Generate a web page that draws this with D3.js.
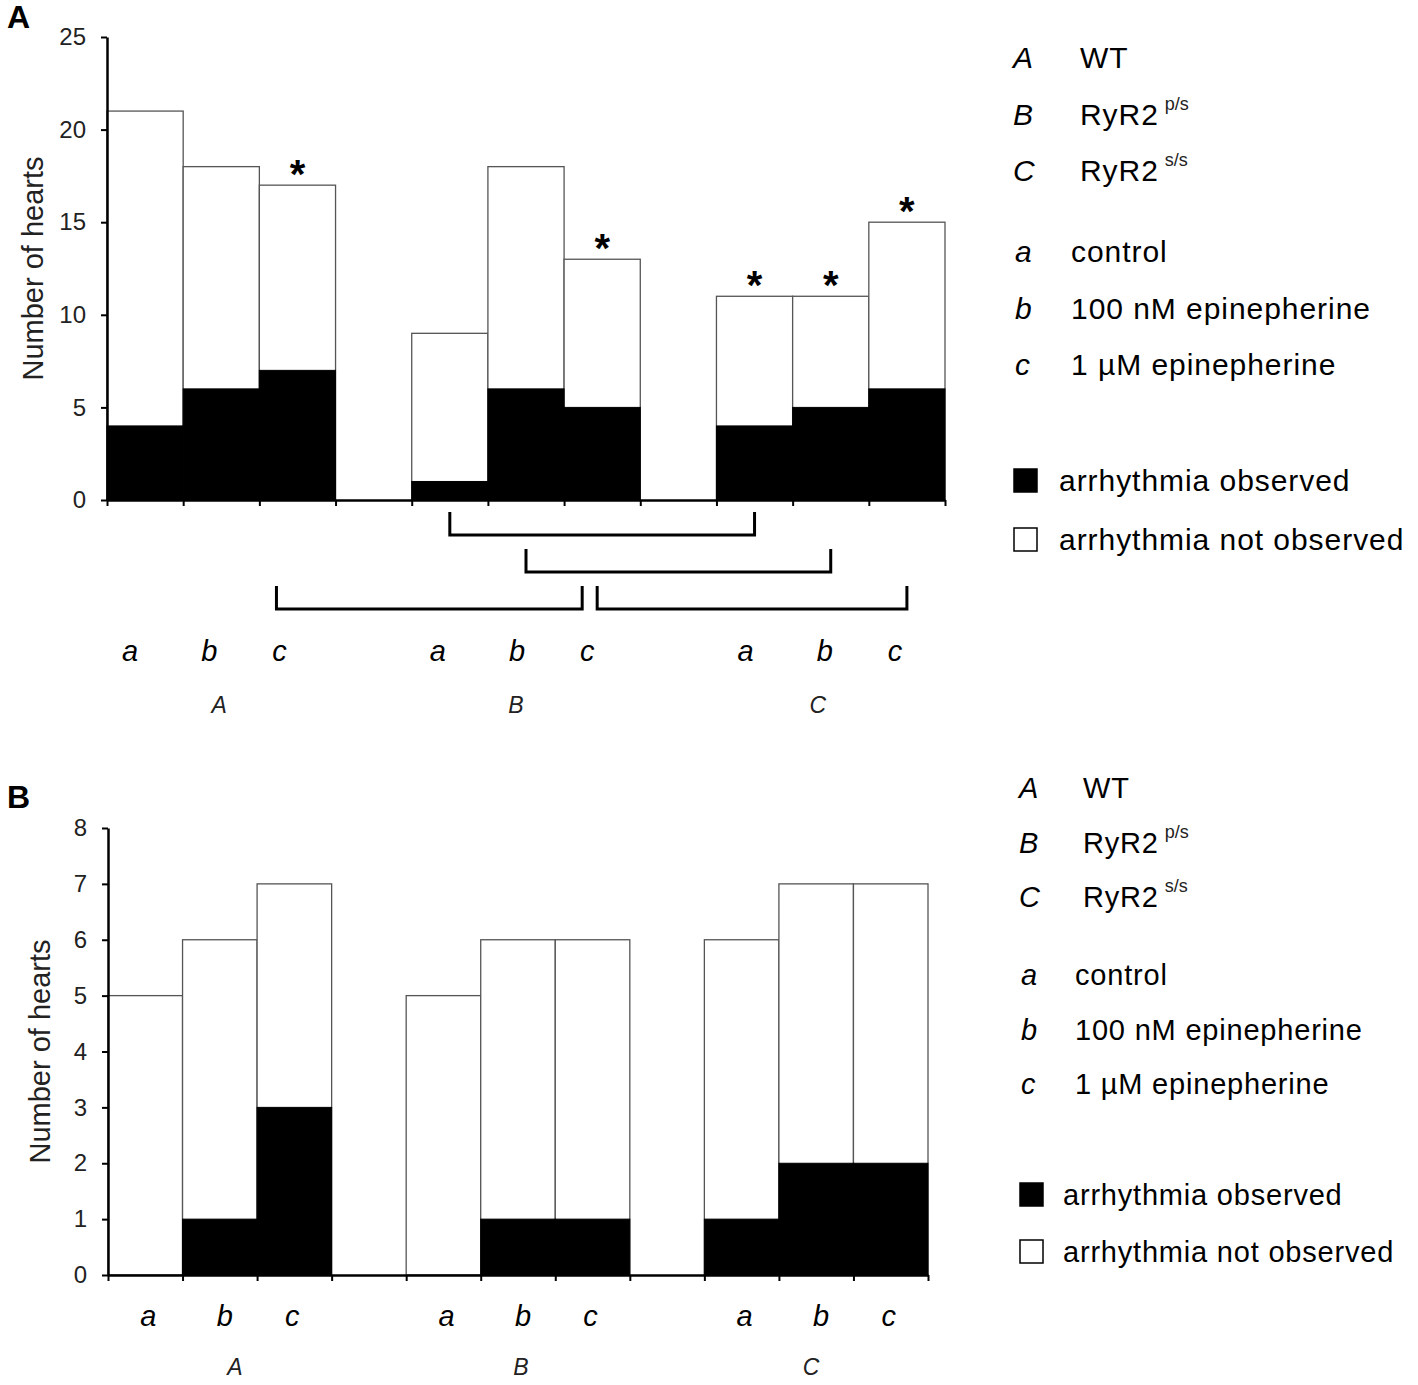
<!DOCTYPE html>
<html>
<head>
<meta charset="utf-8">
<script src="https://cdn.jsdelivr.net/npm/d3@7"></script>
<style>
  body{margin:0;background:#fff}
  svg{display:block}
  text{font-family:"Liberation Sans",Arial,sans-serif}
</style>
</head>
<body>
<script>
console.log("draw arrhythmia panels")
// shared categories
const groups = ["A","B","C"]
const treatments = ["a","b","c"]
const groupNames = ["WT","RyR2","RyR2"]
const groupSup = ["","p/s","s/s"]
const treatmentNames = ["control","100 nM epinepherine","1 \u00b5M epinepherine"]
const outcomeNames = ["arrhythmia observed","arrhythmia not observed"]

// panel A values (order: Aa Ab Ac Ba Bb Bc Ca Cb Cc)
const totalA = [21,18,17, 9,18,13, 11,11,15]
const arrhythmiaA = [4,6,7, 1,6,5, 4,5,6]
const starA = [0,0,1, 0,0,1, 1,1,1]
const yTicksA = [0,5,10,15,20,25]
const bracketsA = [["B-a","C-a",0],["B-b","C-b",1],["A-c","B-c",2],["B-c","C-c",2]]

// panel B values
const totalB = [5,6,7, 5,6,6, 6,7,7]
const arrhythmiaB = [0,1,3, 0,1,1, 1,2,2]
const starB = [0,0,0, 0,0,0, 0,0,0]
const yTicksB = [0,1,2,3,4,5,6,7,8]
const bracketsB = []

const svg = d3.select("body").append("svg").attr("width",1418).attr("height",1385)

// slot list with an empty slot between genotype groups
let slots = []
groups.forEach((g,i)=>{
  treatments.forEach(t=>slots.push(`${g}-${t}`))
  if(i<groups.length-1) slots.push(`gap${i}`)
})

function makeRows(total,arr,star){
  let rows=[]
  groups.forEach((g,gi)=>{
    treatments.forEach((t,ti)=>{
      let k=gi*3+ti
      rows.push({id:`${g}-${t}`,group:g,treat:t,total:total[k],arr:arr[k],star:star[k]})
    })
  })
  return rows
}

function drawPanel(p){
  let rows = makeRows(p.total,p.arr,p.star)
  let x = d3.scaleBand().domain(slots).range([p.x0,p.x1]).padding(0)
  let xb = d3.scaleLinear().domain([0,slots.length]).range([p.x0,p.x1])
  let y = d3.scaleLinear().domain([0,p.yMax]).range([p.y0,p.y1])
  let bw = x.bandwidth()
  let g = svg.append("g")

  // panel letter
  g.append("text").attr("x",p.letterX).attr("y",p.letterY)
    .attr("font-size",32).attr("font-weight","bold").text(p.letter)

  // white (total) bars, then black arrhythmia part
  g.selectAll(".tot").data(rows).join("rect").attr("class","tot")
    .attr("x",d=>x(d.id)).attr("width",bw)
    .attr("y",d=>y(d.total)).attr("height",d=>y(0)-y(d.total))
    .attr("fill","#fff").attr("stroke","#555").attr("stroke-width",1.3)
  g.selectAll(".arr").data(rows.filter(d=>d.arr>0)).join("rect").attr("class","arr")
    .attr("x",d=>x(d.id)).attr("width",bw)
    .attr("y",d=>y(d.arr)).attr("height",d=>y(0)-y(d.arr))
    .attr("fill","#000").attr("stroke","#000").attr("stroke-width",1)

  // stars
  g.selectAll(".star").data(rows.filter(d=>d.star)).join("text").attr("class","star")
    .attr("x",d=>x(d.id)+bw/2).attr("y",d=>y(d.total)+3)
    .attr("text-anchor","middle").attr("font-size",40).attr("font-weight","bold")
    .text("*")

  // axes
  let ya = g.append("g").attr("transform",`translate(${p.x0},0)`)
    .call(d3.axisLeft(y).tickValues(p.yTicks).tickSizeInner(6).tickSizeOuter(0).tickPadding(15))
  ya.select(".domain").attr("stroke","#000").attr("stroke-width",2.5)
  ya.selectAll(".tick line").attr("stroke","#000").attr("stroke-width",2)
  ya.selectAll(".tick text").attr("font-size",24).attr("fill","#222")
    .attr("font-family","Liberation Sans,Arial,sans-serif")

  let xa = g.append("g").attr("transform",`translate(0,${p.y0})`)
    .call(d3.axisBottom(xb).tickValues(d3.range(slots.length+1)).tickFormat("").tickSizeInner(6).tickSizeOuter(0))
  xa.select(".domain").attr("stroke","#000").attr("stroke-width",2.5)
  xa.selectAll(".tick line").attr("stroke","#000").attr("stroke-width",2)

  // y title
  g.append("text").attr("transform",`translate(${p.titleX},${(p.y0+p.y1)/2}) rotate(-90)`)
    .attr("text-anchor","middle").attr("font-size",29).attr("fill","#222")
    .text("Number of hearts")

  // significance brackets
  p.brackets.forEach((b,i)=>{
    let xa0 = x(b[0])+bw/2, xa1 = x(b[1])+bw/2
    // brackets sharing a level sit side by side
    let same = p.brackets.filter(o=>o[2]===b[2])
    if(same.length>1){
      if(same.indexOf(b)===0){xa0-=21;xa1-=20}else{xa0-=5}
    }
    let top = p.brY+b[2]*p.brStep
    g.append("path")
      .attr("d",`M${xa0},${top} V${top+p.brH} H${xa1} V${top}`)
      .attr("fill","none").attr("stroke","#000").attr("stroke-width",3)
  })

  // treatment labels and group labels
  g.selectAll(".tl").data(rows).join("text").attr("class","tl")
    .attr("x",d=>x(d.id)+bw/2+p.tlShift[treatments.indexOf(d.treat)]+p.tlGroupShift[groups.indexOf(d.group)])
    .attr("y",p.tlY).attr("text-anchor","middle")
    .attr("font-size",29).attr("font-style","italic").text(d=>d.treat)
  g.selectAll(".gl").data(groups).join("text").attr("class","gl")
    .attr("x",(d,i)=>x(`${d}-b`)+bw/2+p.glShift[i])
    .attr("y",p.glY).attr("text-anchor","middle")
    .attr("font-size",23).attr("font-style","italic").attr("fill","#222").text(d=>d)

  // legend
  let L = p.legend
  let lg = g.append("g").attr("transform",`translate(${L.x},${L.y})`)
    .attr("font-size",L.fs).attr("letter-spacing",L.ls)
  groups.forEach((d,i)=>{
    let yy = i*L.step
    lg.append("text").attr("x",0).attr("y",yy).attr("font-style","italic").text(d)
    let t = lg.append("text").attr("x",L.nameX).attr("y",yy).text(groupNames[i])
    if(groupSup[i]){
      let w = t.node().getComputedTextLength()
      lg.append("text").attr("x",L.nameX+w+6).attr("y",yy-15)
        .attr("font-size",18).attr("letter-spacing",0).attr("fill","#222").text(groupSup[i])
    }
  })
  treatments.forEach((d,i)=>{
    let yy = L.treatY+i*L.step
    lg.append("text").attr("x",2).attr("y",yy).attr("font-style","italic").text(d)
    lg.append("text").attr("x",L.treatX).attr("y",yy).text(treatmentNames[i])
  })
  outcomeNames.forEach((d,i)=>{
    let yy = L.boxY+i*L.boxStep
    lg.append("rect").attr("x",1).attr("y",yy-22).attr("width",23).attr("height",23)
      .attr("fill",i===0?"#000":"#fff").attr("stroke","#000").attr("stroke-width",1.5)
    lg.append("text").attr("x",L.boxTextX).attr("y",yy).text(d)
  })
}

drawPanel({
  letter:"A",letterX:7,letterY:28,
  total:totalA,arr:arrhythmiaA,star:starA,yTicks:yTicksA,yMax:25,
  x0:107,x1:945,y0:500,y1:37,titleX:43,
  brackets:bracketsA,brY:512,brStep:37,brH:23,
  tlY:661,tlShift:[-15,-12,-18],tlGroupShift:[0,3,6],glY:713,glShift:[-2,-10,-13],
  legend:{x:1013,y:68,step:56.5,fs:30,ls:0.95,nameX:67,treatY:194,treatX:58,boxY:423,boxStep:59,boxTextX:46}
})
drawPanel({
  letter:"B",letterX:7,letterY:808,
  total:totalB,arr:arrhythmiaB,star:starB,yTicks:yTicksB,yMax:8,
  x0:108,x1:928,y0:1275,y1:828,titleX:50,
  brackets:bracketsB,brY:0,brStep:0,brH:0,
  tlY:1326,tlShift:[3,5,-2],tlGroupShift:[0,0,0],glY:1375,glShift:[15,3,-5],
  legend:{x:1019,y:798,step:54.5,fs:29,ls:0.8,nameX:64,treatY:187,treatX:56,boxY:407,boxStep:57,boxTextX:44}
})
</script>
</body>
</html>
